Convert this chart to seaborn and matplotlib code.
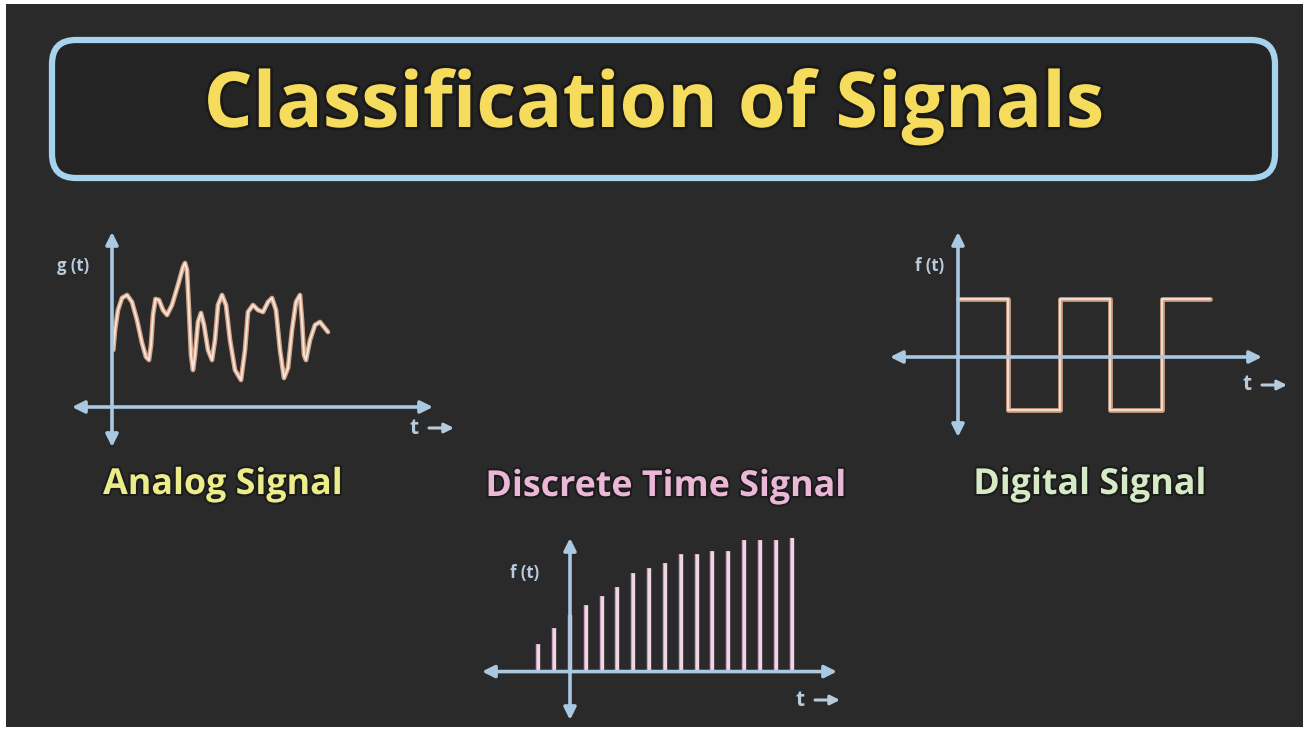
import numpy as np
import matplotlib
matplotlib.use("Agg")
import matplotlib.pyplot as plt
import matplotlib.patheffects as pe
from matplotlib.patches import FancyBboxPatch, Rectangle
import seaborn as sns

sns.set_theme(style="dark")
plt.rcParams["font.family"] = ["Open Sans", "DejaVu Sans"]

# ---- data ----
title = "Classification of Signals"
panel_names = ["Analog Signal", "Discrete Time Signal", "Digital Signal"]

# analog signal g(t)
analog_t = [0.13, 0.3, 0.6, 1.0, 1.5, 2.0, 2.5, 3.0, 3.4, 3.7, 3.9, 4.1, 4.35,
            4.7, 5.1, 5.5, 6.0, 6.6, 7.1, 7.3, 7.5, 7.7, 7.9, 8.1, 8.3, 8.6,
            8.9, 9.2, 9.6, 10.0, 10.3, 10.6, 11.0, 11.4, 11.8, 12.3, 12.9,
            13.3, 13.6, 14.1, 14.6, 15.1, 15.6, 16.0, 16.4, 16.8, 17.2, 17.6,
            18.0, 18.4, 18.8, 19.0, 19.2, 19.4, 19.8, 20.3, 20.8, 21.2, 21.6]
analog_g = [5.7, 7.7, 9.7, 10.9, 11.2, 10.5, 8.7, 6.4, 5.0, 4.7, 6.2, 9.2, 10.8,
            10.7, 9.7, 9.2, 10.2, 12.2, 14.0, 14.4, 13.7, 9.7, 5.2, 3.7, 5.2, 8.5,
            9.4, 8.2, 5.7, 4.7, 6.7, 10.2, 11.2, 10.2, 6.7, 3.7, 2.7,
            5.7, 9.5, 10.2, 9.7, 9.5, 10.5, 10.9, 9.7, 5.7, 2.9, 3.9,
            7.7, 10.5, 11.2, 8.7, 5.2, 4.7, 6.7, 8.2, 8.5, 8.0, 7.5]

# discrete time signal f[n]
discrete_n = list(range(-2, 15))
discrete_f = [2.8, 4.4, 5.7, 6.7, 7.6, 8.5, 9.9, 10.4, 10.9, 11.8, 11.8,
              12.1, 12.1, 13.2, 13.2, 13.2, 13.6]

# digital signal f(t), step edges and levels
digital_t = [0, 5.0, 10.2, 15.2, 20.4, 25.2]
digital_f = [5.8, -5.3, 5.8, -5.3, 5.8, 5.8]

W, H = 1307, 730
BG = "#2a2a2a"
AXIS_C = "#a9c8e2"
LABEL_C = "#b8cbdd"
fig = plt.figure(figsize=(W / 100, H / 100), dpi=100)
fig.patch.set_facecolor("white")

bg = fig.add_axes([0, 0, 1, 1])
bg.set_xlim(0, W)
bg.set_ylim(H, 0)
bg.axis("off")
bg.add_patch(Rectangle((6, 4), 1297, 723, facecolor=BG, edgecolor="none"))

# title box
bg.add_patch(FancyBboxPatch((52, 40), 1223, 138,
                            boxstyle="round,pad=0,rounding_size=24",
                            facecolor="#242424", edgecolor="#a6d3ee", lw=4.5))
bg.text(654, 107, title, ha="center", va="center", fontsize=55.5,
        fontweight="bold", color="#f6dc5c",
        path_effects=[pe.withStroke(linewidth=4, foreground="#1a1a1a")])

label_specs = [(223, 485, "#ecec8a"), (666, 487, "#eab8d6"), (1090, 485, "#d6eac6")]
for name, (x, y, c) in zip(panel_names, label_specs):
    bg.text(x, y, name, ha="center", va="center", fontsize=25.8,
            fontweight="bold", color=c,
            path_effects=[pe.withStroke(linewidth=3, foreground="#1c1c1c")])


def signal_axes(px0, px1, py_top, py_bot, xlim, ylim):
    ax = fig.add_axes([px0 / W, 1 - py_bot / H, (px1 - px0) / W, (py_bot - py_top) / H])
    ax.set_xlim(*xlim)
    ax.set_ylim(*ylim)
    ax.axis("off")
    arrow = dict(arrowstyle="<|-|>", mutation_scale=18, lw=2.6, color=AXIS_C,
                 shrinkA=0, shrinkB=0)
    ax.annotate("", xy=(xlim[1], 0), xytext=(xlim[0], 0), arrowprops=arrow,
                annotation_clip=False)
    ax.annotate("", xy=(0, ylim[1]), xytext=(0, ylim[0]), arrowprops=arrow,
                annotation_clip=False)
    ax.set_zorder(3)
    return ax


def t_arrow(x, y):
    bg.text(x, y, "t", ha="center", va="center", fontsize=15,
            fontweight="bold", color=LABEL_C)
    bg.annotate("", xy=(x + 40, y), xytext=(x + 15, y),
                arrowprops=dict(arrowstyle="-|>", lw=2.2, color=LABEL_C,
                                mutation_scale=14, shrinkA=0, shrinkB=0))


glow = [pe.Stroke(linewidth=3.4, foreground="#d2a084"), pe.Normal()]

# analog
ax_a = signal_axes(72, 433, 232, 447, (-4, 32.1), (-4, 17.5))
sns.lineplot(x=analog_t, y=analog_g, ax=ax_a, sort=False, estimator=None,
             color="#f6e6da", lw=1.4, path_effects=glow)
bg.text(73, 266, "g (t)", ha="center", va="center", fontsize=12,
        fontweight="bold", color=LABEL_C)
t_arrow(414, 428)

# digital
ax_d = signal_axes(890, 1262, 232, 437, (-6.8, 30.4), (-8.0, 12.5))
sns.lineplot(x=digital_t, y=digital_f, ax=ax_d, estimator=None,
             drawstyle="steps-post", color="#f0ddd0", lw=1.4, path_effects=glow)
bg.text(930, 266, "f (t)", ha="center", va="center", fontsize=12,
        fontweight="bold", color=LABEL_C)
t_arrow(1247, 385)

# discrete
ax_s = signal_axes(482, 837, 538, 720, (-5.56, 16.87), (-4.85, 13.37))
ax_s.vlines(discrete_n, 0, discrete_f, color="#eed6e4", lw=2.2,
            path_effects=[pe.Stroke(linewidth=3.2, foreground="#c8a0bc"), pe.Normal()])
bg.text(525, 573, "f (t)", ha="center", va="center", fontsize=12,
        fontweight="bold", color=LABEL_C)
t_arrow(800, 700)

fig.savefig("out.png", dpi=100, facecolor=fig.get_facecolor())
